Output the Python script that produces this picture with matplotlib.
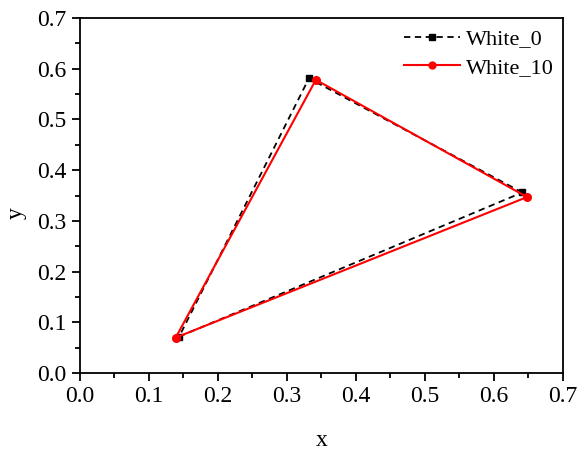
import matplotlib
matplotlib.use('Agg')
import matplotlib.pyplot as plt
from matplotlib.ticker import MultipleLocator

plt.rcParams['font.family'] = 'serif'
plt.rcParams['font.serif'] = ['Liberation Serif', 'DejaVu Serif']

# closed triangles (last point repeats the first)
x_white0 = [0.641, 0.332, 0.144, 0.641]
y_white0 = [0.356, 0.581, 0.072, 0.356]
x_white10 = [0.648, 0.342, 0.139, 0.648]
y_white10 = [0.347, 0.578, 0.070, 0.347]

fig = plt.figure(figsize=(5.78, 4.49), dpi=100)
ax = fig.add_axes([0.138, 0.169, 0.836, 0.791])

ax.plot(x_white0, y_white0, color='black', linestyle=(0, (3.5, 2.5)), linewidth=1.3,
        marker='s', markersize=4.5, markevery=[0, 1, 2], label='White_0')
ax.plot(x_white10, y_white10, color='red', linestyle='-', linewidth=1.5,
        marker='o', markersize=5.5, markevery=[0, 1, 2], label='White_10')

ax.set_xlim(0, 0.7)
ax.set_ylim(0, 0.7)
ax.xaxis.set_major_locator(MultipleLocator(0.1))
ax.xaxis.set_minor_locator(MultipleLocator(0.05))
ax.yaxis.set_major_locator(MultipleLocator(0.1))
ax.yaxis.set_minor_locator(MultipleLocator(0.05))
ax.tick_params(which='major', direction='out', length=6, width=1.3, labelsize=17)
ax.tick_params(which='minor', direction='out', length=3.5, width=1.3)
for s in ax.spines.values():
    s.set_linewidth(1.3)
ax.xaxis.set_major_formatter(plt.FormatStrFormatter('%.1f'))
ax.yaxis.set_major_formatter(plt.FormatStrFormatter('%.1f'))

ax.set_xlabel('x', fontsize=17, labelpad=16)
ax.set_ylabel('y', fontsize=17)
ax.yaxis.set_label_coords(-0.11, 0.45)

ax.legend(loc='upper right', frameon=False, fontsize=16, handlelength=2.5,
          handletextpad=0.3, borderaxespad=0.0, labelspacing=0.35, markerscale=0.9,
          bbox_to_anchor=(1.0, 0.994))

fig.savefig('out.png', dpi=100)
